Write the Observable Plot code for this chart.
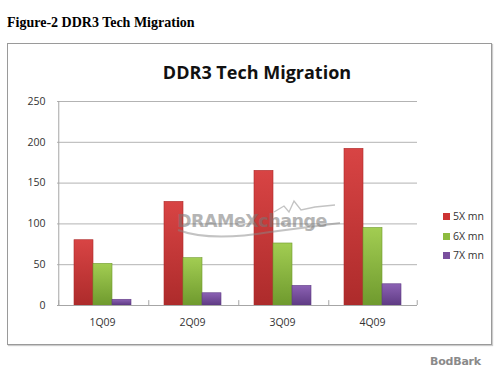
<!DOCTYPE html>
<html>
<head>
<meta charset="utf-8">
<script src="https://cdn.jsdelivr.net/npm/d3@7"></script>
<script src="https://cdn.jsdelivr.net/npm/@observablehq/plot@0.6"></script>
<style>
  html, body { margin: 0; padding: 0; background: #fff; }
  #page { position: relative; width: 500px; height: 374px; overflow: hidden; font-family: "Liberation Sans", Arial, sans-serif; }
  #caption { position: absolute; left: 7px; top: 15px; font-family: "Liberation Serif", "Times New Roman", serif; font-weight: bold; font-size: 14px; color: #000; }
  #box { position: absolute; left: 7px; top: 43px; width: 483px; height: 300px; border: 1px solid #9a9a9a; box-shadow: 1px 1px 1px #ccc; }
  #title { position: absolute; left: 0; width: 514px; top: 60px; text-align: center; font-family: "Open Sans", "Liberation Sans", sans-serif; font-weight: bold; font-size: 18px; color: #111; }
  #chart { position: absolute; left: 0; top: 0; }
  #legend { position: absolute; left: 443px; top: 208px; font-family: "Open Sans", sans-serif; font-size: 10.5px; color: #333; }
  #legend div { height: 19.7px; line-height: 16px; white-space: nowrap; }
  #legend span.sw { display: inline-block; width: 7px; height: 7px; margin-right: 3px; vertical-align: 0px; }
  #watermark { position: absolute; left: 177px; top: 211px; font-family: "DejaVu Sans", sans-serif; font-weight: bold; font-size: 17.5px; color: #777; opacity: 0.55; letter-spacing: -0.5px; }
  #swoosh { position: absolute; left: 170px; top: 190px; opacity: 0.5; }
  #logo { position: absolute; left: 430px; top: 355px; font-family: "DejaVu Sans", sans-serif; font-weight: bold; font-size: 11px; color: #8a8a8a; letter-spacing: -0.2px; }
</style>
</head>
<body>
<div id="page">
  <div id="caption">Figure-2 DDR3 Tech Migration</div>
  <div id="box"></div>
  <div id="chart"></div>
  <div id="title">DDR3 Tech Migration</div>
  <svg id="swoosh" width="175" height="60">
    <path d="M104 22 L114 16 L119 22 L124 11 L131 20 L145 17 L165 15" fill="none" stroke="#888" stroke-width="1.3"/>
    <path d="M8 40 Q40 52 100 42 Q140 37 170 33" fill="none" stroke="#888" stroke-width="2"/>
  </svg>
  <div id="watermark">DRAMeXchange</div>
  <div id="legend"></div>
  <div id="logo">BodBark</div>
</div>
<script>
const quarters = ["1Q09", "2Q09", "3Q09", "4Q09"];
const seriesNames = ["5X mn", "6X mn", "7X mn"];
const s5X = [80, 127, 165, 192];
const s6X = [51, 58, 76, 95];
const s7X = [7, 15, 24, 26];
const yTicks = [0, 50, 100, 150, 200, 250];
const colors = ["#cc3333", "#8dbb3f", "#7a4f9e"];
const gradStops = [["#d84444", "#ad2b2b"], ["#a2cd52", "#6f9a2e"], ["#8c62b4", "#5f3b84"]];
const gradIds = ["gRed", "gGreen", "gPurple"];

const seriesValues = [s5X, s6X, s7X];
const data = [];
quarters.forEach((q, i) => {
  seriesNames.forEach((s, j) => data.push({ quarter: q, series: s, value: seriesValues[j][i] }));
});

const PAD_OUTER = 0.76;
const facetW = (500 - 56 - 82) / quarters.length;
const step = facetW / (seriesNames.length + 2 * PAD_OUTER);
const toFacetLeft = -(step * PAD_OUTER + step / 2);

const chart = Plot.plot({
  width: 500,
  height: 374,
  marginLeft: 56,
  marginRight: 82,
  marginTop: 101,
  marginBottom: 69,
  style: { background: "transparent", fontFamily: "Open Sans, sans-serif", fontSize: "10.5px", color: "#333" },
  x: { domain: seriesNames, paddingInner: 0, paddingOuter: PAD_OUTER, axis: null, label: null },
  fx: { domain: quarters, padding: 0, label: null, axis: null },
  y: { domain: [0, 250], ticks: yTicks, label: null, axis: null },
  color: { domain: seriesNames, range: gradIds.map(id => `url(#${id})`) },
  marks: [
    Plot.gridY(yTicks.filter(t => t > 0), { stroke: "#b3b3b3", strokeOpacity: 1 }),
    Plot.barY(data, {
      fx: "quarter",
      x: "series",
      y: "value",
      fill: "series",
      stroke: "series",
      strokeWidth: 0.6,
      inset: 0
    }),
    Plot.ruleY([0], { stroke: "#a6a6a6" }),
    // y axis line on the first facet only
    Plot.ruleX([quarters[0]], { fx: d => d, x: () => seriesNames[0], dx: toFacetLeft, y1: () => 0, y2: () => 250, stroke: "#a6a6a6" }),
    // category boundary ticks (pointing into the plot)
    Plot.ruleX(quarters, { fx: d => d, x: () => seriesNames[0], dx: toFacetLeft, y1: () => 0, y2: () => 6, stroke: "#a6a6a6" }),
    Plot.ruleX([quarters[quarters.length - 1]], { fx: d => d, x: () => seriesNames[seriesNames.length - 1], dx: -toFacetLeft, y1: () => 0, y2: () => 6, stroke: "#a6a6a6" }),
    Plot.axisY({ ticks: yTicks, tickSize: 0, tickPadding: 12, fill: "#333", fontSize: 10.5 }),
    Plot.axisFx({ anchor: "bottom", tickSize: 0, tickPadding: 13, fill: "#333", fontSize: 10.5, label: null }),
  ],
});

// gradients for bar fills
const svg = d3.select(chart.tagName.toLowerCase() === "svg" ? chart : chart.querySelector("svg"));
const defs = svg.insert("defs", ":first-child");
gradIds.forEach((id, i) => {
  const g = defs.append("linearGradient").attr("id", id).attr("x1", 0).attr("y1", 0).attr("x2", 0).attr("y2", 1);
  g.append("stop").attr("offset", "0%").attr("stop-color", gradStops[i][0]);
  g.append("stop").attr("offset", "100%").attr("stop-color", gradStops[i][1]);
});
// darker outlines
svg.selectAll("rect[stroke^='url']").each(function () {
  const s = this.getAttribute("stroke");
  const i = gradIds.findIndex(id => s.includes(id));
  if (i >= 0) this.setAttribute("stroke", gradStops[i][1]);
});

document.getElementById("chart").appendChild(chart);

// legend
const legend = document.getElementById("legend");
seriesNames.forEach((s, i) => {
  const row = document.createElement("div");
  row.innerHTML = `<span class="sw" style="background:${colors[i]}"></span>${s}`;
  legend.appendChild(row);
});
</script>
</body>
</html>
